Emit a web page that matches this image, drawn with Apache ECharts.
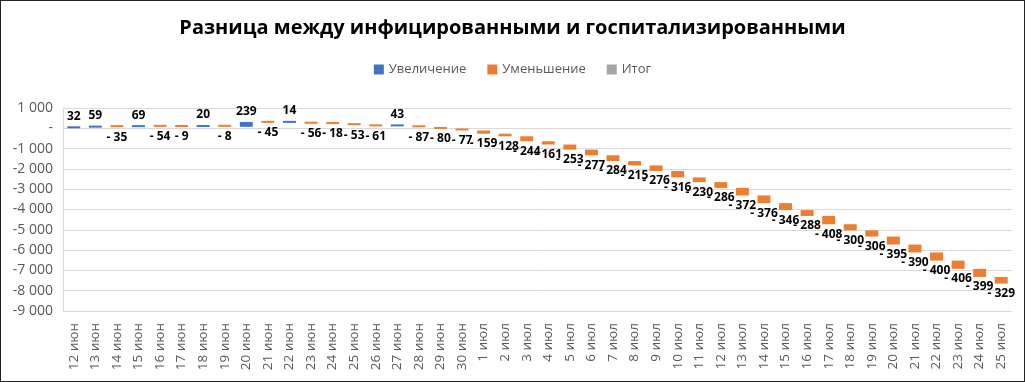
<!DOCTYPE html>
<html>
<head>
<meta charset="utf-8">
<script src="https://cdn.jsdelivr.net/npm/echarts@6/dist/echarts.min.js"></script>
<style>
html,body{margin:0;padding:0;background:#fff;}
#wrap{width:1025px;height:382px;box-sizing:border-box;border:1px solid #222;}
#chart{width:1023px;height:380px;}
</style>
</head>
<body>
<div id="wrap"><div id="chart"></div></div>
<script>
var categories = ['12 июн','13 июн','14 июн','15 июн','16 июн','17 июн','18 июн','19 июн','20 июн','21 июн','22 июн','23 июн','24 июн','25 июн','26 июн','27 июн','28 июн','29 июн','30 июн',
'1 июл','2 июл','3 июл','4 июл','5 июл','6 июл','7 июл','8 июл','9 июл','10 июл','11 июл','12 июл','13 июл','14 июл','15 июл','16 июл','17 июл','18 июл','19 июл','20 июл','21 июл','22 июл','23 июл','24 июл','25 июл'];
var changes = [32,59,-35,69,-54,-9,20,-8,239,-45,14,-56,-18,-53,-61,43,-87,-80,-77,
-159,-128,-244,-161,-253,-277,-284,-215,-276,-316,-230,-286,-372,-376,-346,-288,-408,-300,-306,-395,-390,-400,-406,-399,-329];
var seriesNames = ['Увеличение','Уменьшение','Итог'];
var seriesColors = ['#4472C4','#ED7D31','#A5A5A5'];
var yTicks = {min:-9000, max:1000, interval:1000};

var baseInc = [], baseDec = [], inc = [], dec = [];
var run = 0;
for (var i = 0; i < changes.length; i++) {
  var v = changes[i];
  var next = run + v;
  var lo = Math.min(run, next);
  baseInc.push(v > 0 ? lo : '-');
  baseDec.push(v < 0 ? lo : '-');
  inc.push(v > 0 ? v : '-');
  dec.push(v < 0 ? -v : '-');
  run = next;
}

function fmtY(v){
  if (v === 0) return '-';
  var s = Math.abs(v).toString().replace(/\B(?=(\d{3})+(?!\d))/g, ' ');
  return (v < 0 ? '-' : '') + s;
}

var FONT = '"Open Sans", "Noto Sans", sans-serif';
var labelStyle = {show:true, fontFamily:FONT, fontWeight:'bold', fontSize:12, color:'#000'};
var hidden = {color:'rgba(0,0,0,0)'};

var chart = echarts.init(document.getElementById('chart'), null, {renderer:'canvas'});
chart.setOption({
  animation:false,
  backgroundColor:'#fff',
  title:{
    text:'Разница между инфицированными и госпитализированными',
    left:'center', top:12,
    textStyle:{fontFamily:FONT, fontWeight:'bold', fontSize:20, color:'#000'}
  },
  legend:{
    top:57, left:'center',
    itemWidth:10, itemHeight:10, itemGap:21,
    icon:'rect',
    data:seriesNames,
    textStyle:{fontFamily:FONT, fontSize:13, color:'#595959'}
  },
  grid:{left:62, right:12, top:107, bottom:70, containLabel:false},
  xAxis:{
    type:'category', data:categories,
    axisLine:{show:false}, axisTick:{show:false},
    axisLabel:{rotate:90, fontFamily:FONT, fontSize:13.5, color:'#595959', margin:12, interval:0}
  },
  yAxis:{
    type:'value', min:yTicks.min, max:yTicks.max, interval:yTicks.interval,
    axisLine:{show:true, lineStyle:{color:'#D9D9D9'}}, axisTick:{show:false},
    splitLine:{lineStyle:{color:'#D9D9D9', width:1}},
    axisLabel:{formatter:fmtY, fontFamily:FONT, fontSize:14, color:'#595959', margin:10}
  },
  series:[
    {name:'baseInc', type:'bar', stack:'a', data:baseInc, barWidth:'60%', barGap:'-100%',
     itemStyle:hidden, emphasis:{disabled:true}, silent:true, stackStrategy:'all'},
    {name:seriesNames[0], type:'bar', stack:'a', data:inc, barMinHeight:2, stackStrategy:'all',
     itemStyle:{color:seriesColors[0]},
     label:Object.assign({position:'top', distance:4, formatter:function(p){return p.value;}}, labelStyle)},
    {name:'baseDec', type:'bar', stack:'b', data:baseDec, barWidth:'60%', barGap:'-100%',
     itemStyle:hidden, emphasis:{disabled:true}, silent:true, stackStrategy:'all'},
    {name:seriesNames[1], type:'bar', stack:'b', data:dec, barMinHeight:2, stackStrategy:'all',
     itemStyle:{color:seriesColors[1]},
     label:Object.assign({position:'bottom', distance:4, formatter:function(p){return '- ' + p.value;}}, labelStyle)},
    {name:seriesNames[2], type:'bar', stack:'c', data:[], barWidth:'60%', barGap:'-100%', itemStyle:{color:seriesColors[2]}}
  ]
});
</script>
</body>
</html>
